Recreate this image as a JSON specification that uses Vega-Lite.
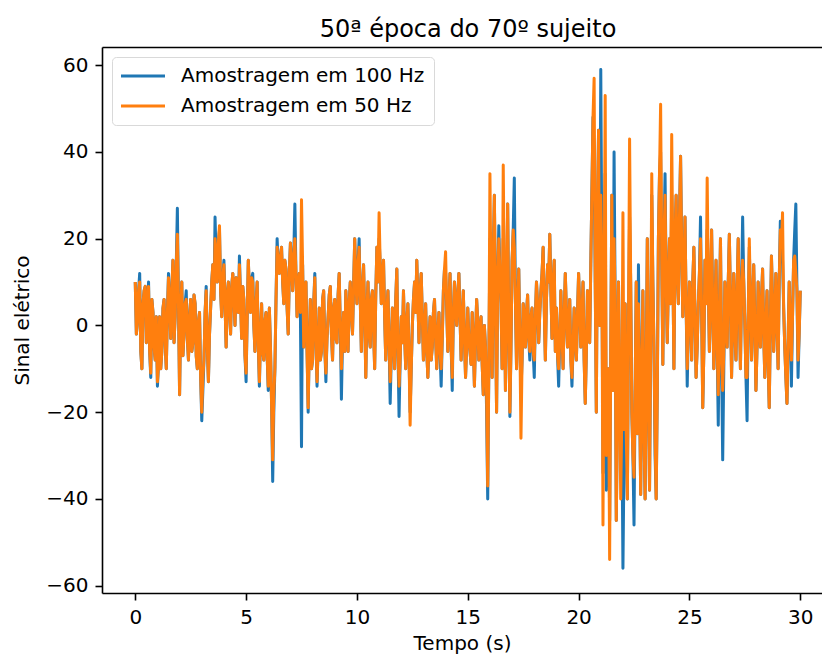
{
  "$schema": "https://vega.github.io/schema/vega-lite/v6.json",
  "autosize": "none",
  "width": 720,
  "height": 546,
  "padding": {"left": 102, "top": 47, "right": 0, "bottom": 64},
  "background": "white",
  "title": {"text": "50ª época do 70º sujeito", "font": "DejaVu Sans", "fontSize": 24, "fontWeight": "normal", "color": "black", "offset": 5, "dx": 6},
  "config": {
    "view": {"stroke": null},
    "axis": {"domain": true, "domainColor": "black", "domainWidth": 1.6, "grid": false, "tickColor": "black", "tickWidth": 1.6, "tickSize": 7, "labelFont": "DejaVu Sans", "labelFontSize": 20, "labelColor": "black", "titleFont": "DejaVu Sans", "titleFontSize": 20, "titleFontWeight": "normal", "titleColor": "black", "labelPadding": 7}
  },
  "data": {"values": [
{"t":0.0,"a":10,"b":10},{"t":0.1,"a":1,"b":1},{"t":0.2,"a":12,"b":10},{"t":0.3,"a":-10,"b":-10},{"t":0.4,"a":8,"b":8},{"t":0.5,"a":-4,"b":-4},{"t":0.6,"a":10,"b":9},{"t":0.7,"a":-12,"b":-11},{"t":0.8,"a":3,"b":3},{"t":0.9,"a":-8,"b":-8},
{"t":1.0,"a":-14,"b":-13},{"t":1.1,"a":2,"b":2},{"t":1.2,"a":-6,"b":-6},{"t":1.3,"a":6,"b":6},{"t":1.4,"a":-10,"b":-10},{"t":1.5,"a":12,"b":11},{"t":1.6,"a":-3,"b":-3},{"t":1.7,"a":15,"b":15},{"t":1.8,"a":2,"b":2},{"t":1.9,"a":27,"b":21},
{"t":2.0,"a":-16,"b":-16},{"t":2.1,"a":10,"b":10},{"t":2.2,"a":-2,"b":-2},{"t":2.3,"a":8,"b":6},{"t":2.4,"a":-8,"b":-8},{"t":2.5,"a":6,"b":6},{"t":2.6,"a":-4,"b":-4},{"t":2.7,"a":5,"b":5},{"t":2.8,"a":-10,"b":-10},{"t":2.9,"a":3,"b":3},
{"t":3.0,"a":-22,"b":-20},{"t":3.1,"a":-8,"b":-8},{"t":3.2,"a":9,"b":8},{"t":3.3,"a":-13,"b":-13},{"t":3.4,"a":4,"b":4},{"t":3.5,"a":14,"b":14},{"t":3.6,"a":25,"b":20},{"t":3.7,"a":10,"b":10},{"t":3.8,"a":22,"b":23},{"t":3.9,"a":2,"b":2},
{"t":4.0,"a":15,"b":14},{"t":4.1,"a":-5,"b":-5},{"t":4.2,"a":10,"b":10},{"t":4.3,"a":-2,"b":-2},{"t":4.4,"a":12,"b":12},{"t":4.5,"a":0,"b":0},{"t":4.6,"a":8,"b":8},{"t":4.7,"a":16,"b":14},{"t":4.8,"a":-3,"b":-3},{"t":4.9,"a":6,"b":6},
{"t":5.0,"a":-13,"b":-11},{"t":5.1,"a":15,"b":15},{"t":5.2,"a":3,"b":3},{"t":5.3,"a":12,"b":10},{"t":5.4,"a":-6,"b":-6},{"t":5.5,"a":10,"b":10},{"t":5.6,"a":-14,"b":-13},{"t":5.7,"a":5,"b":5},{"t":5.8,"a":-8,"b":-8},{"t":5.9,"a":3,"b":3},
{"t":6.0,"a":-15,"b":-14},{"t":6.1,"a":-5,"b":-5},{"t":6.2,"a":-36,"b":-31},{"t":6.3,"a":-10,"b":-10},{"t":6.4,"a":20,"b":18},{"t":6.5,"a":12,"b":12},{"t":6.6,"a":18,"b":18},{"t":6.7,"a":5,"b":5},{"t":6.8,"a":13,"b":13},{"t":6.9,"a":-2,"b":-2},
{"t":7.0,"a":19,"b":19},{"t":7.1,"a":8,"b":8},{"t":7.2,"a":28,"b":20},{"t":7.3,"a":2,"b":2},{"t":7.4,"a":12,"b":12},{"t":7.5,"a":-28,"b":29},{"t":7.6,"a":-5,"b":-5},{"t":7.7,"a":10,"b":10},{"t":7.8,"a":-20,"b":-19},{"t":7.9,"a":6,"b":6},
{"t":8.0,"a":-8,"b":-8},{"t":8.1,"a":12,"b":11},{"t":8.2,"a":-14,"b":-13},{"t":8.3,"a":4,"b":4},{"t":8.4,"a":-6,"b":-6},{"t":8.5,"a":8,"b":8},{"t":8.6,"a":-13,"b":-11},{"t":8.7,"a":2,"b":2},{"t":8.8,"a":9,"b":9},{"t":8.9,"a":-8,"b":-8},
{"t":9.0,"a":6,"b":6},{"t":9.1,"a":-4,"b":-4},{"t":9.2,"a":12,"b":12},{"t":9.3,"a":-17,"b":-10},{"t":9.4,"a":3,"b":3},{"t":9.5,"a":8,"b":8},{"t":9.6,"a":-6,"b":-6},{"t":9.7,"a":10,"b":10},{"t":9.8,"a":-2,"b":-2},{"t":9.9,"a":20,"b":20},
{"t":10.0,"a":5,"b":5},{"t":10.1,"a":20,"b":18},{"t":10.2,"a":-6,"b":-6},{"t":10.3,"a":14,"b":14},{"t":10.4,"a":-12,"b":-12},{"t":10.5,"a":10,"b":10},{"t":10.6,"a":-5,"b":-5},{"t":10.7,"a":8,"b":8},{"t":10.8,"a":-10,"b":-10},{"t":10.9,"a":18,"b":18},
{"t":11.0,"a":20,"b":26},{"t":11.1,"a":5,"b":5},{"t":11.2,"a":15,"b":15},{"t":11.3,"a":-8,"b":-8},{"t":11.4,"a":8,"b":8},{"t":11.5,"a":-18,"b":-13},{"t":11.6,"a":4,"b":4},{"t":11.7,"a":-10,"b":-10},{"t":11.8,"a":13,"b":13},{"t":11.9,"a":-21,"b":-14},
{"t":12.0,"a":2,"b":2},{"t":12.1,"a":8,"b":8},{"t":12.2,"a":-10,"b":-10},{"t":12.3,"a":5,"b":5},{"t":12.4,"a":-20,"b":-23},{"t":12.5,"a":0,"b":0},{"t":12.6,"a":10,"b":10},{"t":12.7,"a":15,"b":15},{"t":12.8,"a":-4,"b":-4},{"t":12.9,"a":12,"b":12},
{"t":13.0,"a":-8,"b":-8},{"t":13.1,"a":5,"b":5},{"t":13.2,"a":-12,"b":-12},{"t":13.3,"a":2,"b":2},{"t":13.4,"a":-5,"b":-5},{"t":13.5,"a":6,"b":6},{"t":13.6,"a":-10,"b":-10},{"t":13.7,"a":3,"b":3},{"t":13.8,"a":-14,"b":-10},{"t":13.9,"a":8,"b":8},
{"t":14.0,"a":12,"b":17},{"t":14.1,"a":-6,"b":-6},{"t":14.2,"a":12,"b":12},{"t":14.3,"a":-15,"b":-12},{"t":14.4,"a":10,"b":10},{"t":14.5,"a":0,"b":0},{"t":14.6,"a":12,"b":12},{"t":14.7,"a":-8,"b":-8},{"t":14.8,"a":8,"b":8},{"t":14.9,"a":-12,"b":-12},
{"t":15.0,"a":4,"b":4},{"t":15.1,"a":-6,"b":-6},{"t":15.2,"a":3,"b":3},{"t":15.3,"a":-14,"b":-14},{"t":15.4,"a":6,"b":6},{"t":15.5,"a":-8,"b":-8},{"t":15.6,"a":2,"b":2},{"t":15.7,"a":-16,"b":-16},{"t":15.8,"a":-5,"b":-5},{"t":15.9,"a":-40,"b":-37},
{"t":16.0,"a":20,"b":35},{"t":16.1,"a":-12,"b":-12},{"t":16.2,"a":30,"b":30},{"t":16.3,"a":-20,"b":-20},{"t":16.4,"a":23,"b":20},{"t":16.5,"a":5,"b":5},{"t":16.6,"a":20,"b":37},{"t":16.7,"a":-15,"b":-15},{"t":16.8,"a":28,"b":28},{"t":16.9,"a":-21,"b":-20},
{"t":17.0,"a":15,"b":15},{"t":17.1,"a":34,"b":18},{"t":17.2,"a":-10,"b":-10},{"t":17.3,"a":13,"b":13},{"t":17.4,"a":-15,"b":-26},{"t":17.5,"a":5,"b":5},{"t":17.6,"a":-5,"b":-5},{"t":17.7,"a":7,"b":7},{"t":17.8,"a":-8,"b":-6},{"t":17.9,"a":4,"b":4},
{"t":18.0,"a":-12,"b":-8},{"t":18.1,"a":10,"b":10},{"t":18.2,"a":-4,"b":-4},{"t":18.3,"a":8,"b":8},{"t":18.4,"a":18,"b":18},{"t":18.5,"a":-8,"b":-8},{"t":18.6,"a":14,"b":14},{"t":18.7,"a":21,"b":21},{"t":18.8,"a":-3,"b":-3},{"t":18.9,"a":15,"b":15},
{"t":19.0,"a":4,"b":4},{"t":19.1,"a":-14,"b":-10},{"t":19.2,"a":8,"b":8},{"t":19.3,"a":-10,"b":-10},{"t":19.4,"a":12,"b":12},{"t":19.5,"a":-5,"b":-5},{"t":19.6,"a":6,"b":6},{"t":19.7,"a":-14,"b":-12},{"t":19.8,"a":4,"b":4},{"t":19.9,"a":-8,"b":-8},
{"t":20.0,"a":12,"b":12},{"t":20.1,"a":-5,"b":-5},{"t":20.2,"a":10,"b":10},{"t":20.3,"a":-18,"b":-18},{"t":20.4,"a":8,"b":8},{"t":20.5,"a":-4,"b":-4},{"t":20.6,"a":31,"b":31},{"t":20.7,"a":40,"b":57},{"t":20.8,"a":-20,"b":-20},{"t":20.9,"a":45,"b":45},
{"t":21.0,"a":59,"b":30},{"t":21.1,"a":-34,"b":-46},{"t":21.2,"a":35,"b":53},{"t":21.3,"a":-20,"b":-20},{"t":21.4,"a":-45,"b":-54},{"t":21.5,"a":30,"b":30},{"t":21.6,"a":40,"b":20},{"t":21.7,"a":-45,"b":-45},{"t":21.8,"a":10,"b":10},{"t":21.9,"a":-30,"b":-40},
{"t":22.0,"a":-56,"b":26},{"t":22.1,"a":5,"b":5},{"t":22.2,"a":-40,"b":-40},{"t":22.3,"a":25,"b":43},{"t":22.4,"a":-20,"b":-20},{"t":22.5,"a":-46,"b":-35},{"t":22.6,"a":10,"b":10},{"t":22.7,"a":14,"b":5},{"t":22.8,"a":-39,"b":-39},{"t":22.9,"a":8,"b":8},
{"t":23.0,"a":-40,"b":-40},{"t":23.1,"a":20,"b":20},{"t":23.2,"a":-38,"b":-38},{"t":23.3,"a":30,"b":35},{"t":23.4,"a":-5,"b":-5},{"t":23.5,"a":-40,"b":-40},{"t":23.6,"a":20,"b":20},{"t":23.7,"a":40,"b":51},{"t":23.8,"a":-9,"b":-9},{"t":23.9,"a":35,"b":30},
{"t":24.0,"a":-4,"b":-4},{"t":24.1,"a":20,"b":20},{"t":24.2,"a":30,"b":44},{"t":24.3,"a":-10,"b":-10},{"t":24.4,"a":30,"b":30},{"t":24.5,"a":5,"b":5},{"t":24.6,"a":39,"b":39},{"t":24.7,"a":2,"b":2},{"t":24.8,"a":25,"b":25},{"t":24.9,"a":-14,"b":-10},
{"t":25.0,"a":10,"b":10},{"t":25.1,"a":-8,"b":-8},{"t":25.2,"a":18,"b":18},{"t":25.3,"a":-12,"b":-12},{"t":25.4,"a":5,"b":5},{"t":25.5,"a":25,"b":20},{"t":25.6,"a":-19,"b":-19},{"t":25.7,"a":15,"b":15},{"t":25.8,"a":22,"b":34},{"t":25.9,"a":-6,"b":-6},
{"t":26.0,"a":22,"b":22},{"t":26.1,"a":-10,"b":-10},{"t":26.2,"a":15,"b":15},{"t":26.3,"a":-23,"b":-16},{"t":26.4,"a":20,"b":20},{"t":26.5,"a":-31,"b":-15},{"t":26.6,"a":10,"b":10},{"t":26.7,"a":-5,"b":-5},{"t":26.8,"a":21,"b":21},{"t":26.9,"a":-12,"b":-12},
{"t":27.0,"a":12,"b":12},{"t":27.1,"a":-8,"b":-8},{"t":27.2,"a":20,"b":20},{"t":27.3,"a":-10,"b":-10},{"t":27.4,"a":25,"b":15},{"t":27.5,"a":0,"b":0},{"t":27.6,"a":-22,"b":-12},{"t":27.7,"a":18,"b":20},{"t":27.8,"a":-8,"b":-8},{"t":27.9,"a":14,"b":14},
{"t":28.0,"a":-15,"b":-15},{"t":28.1,"a":10,"b":10},{"t":28.2,"a":-5,"b":-5},{"t":28.3,"a":13,"b":13},{"t":28.4,"a":-12,"b":-12},{"t":28.5,"a":8,"b":8},{"t":28.6,"a":-19,"b":-19},{"t":28.7,"a":16,"b":16},{"t":28.8,"a":-6,"b":-6},{"t":28.9,"a":12,"b":12},
{"t":29.0,"a":-10,"b":-10},{"t":29.1,"a":24,"b":22},{"t":29.2,"a":15,"b":26},{"t":29.3,"a":-5,"b":-5},{"t":29.4,"a":-18,"b":-18},{"t":29.5,"a":10,"b":10},{"t":29.6,"a":-14,"b":-8},{"t":29.7,"a":15,"b":15},{"t":29.8,"a":28,"b":12},{"t":29.9,"a":-12,"b":-8},
{"t":30.0,"a":8,"b":8},
{"t":0.05,"a":-2,"b":-2},{"t":0.15,"a":8,"b":8},{"t":0.25,"a":-6,"b":-6},{"t":0.35,"a":5,"b":5},{"t":0.45,"a":9,"b":9},{"t":0.55,"a":4,"b":4},{"t":0.65,"a":-6,"b":-6},{"t":0.75,"a":6,"b":6},{"t":0.85,"a":-5,"b":-5},{"t":0.95,"a":2,"b":2},
{"t":1.05,"a":-9,"b":-9},{"t":1.15,"a":-10,"b":-10},{"t":1.25,"a":4,"b":4},{"t":1.35,"a":-4,"b":-4},{"t":1.45,"a":3,"b":3},{"t":1.55,"a":5,"b":5},{"t":1.65,"a":8,"b":8},{"t":1.75,"a":-4,"b":-4},{"t":1.85,"a":14,"b":14},{"t":1.95,"a":5,"b":5},
{"t":2.05,"a":3,"b":3},{"t":2.15,"a":-7,"b":-7},{"t":2.25,"a":5,"b":5},{"t":2.35,"a":-3,"b":-3},{"t":2.45,"a":2,"b":2},{"t":2.55,"a":-6,"b":-6},{"t":2.65,"a":7,"b":7},{"t":2.75,"a":-7,"b":-7},{"t":2.85,"a":1,"b":1},{"t":2.95,"a":-12,"b":-12},
{"t":3.05,"a":-15,"b":-12},{"t":3.15,"a":3,"b":3},{"t":3.25,"a":-5,"b":-5},{"t":3.35,"a":-2,"b":-2},{"t":3.45,"a":10,"b":10},{"t":3.55,"a":6,"b":6},{"t":3.65,"a":15,"b":15},{"t":3.75,"a":19,"b":19},{"t":3.85,"a":8,"b":8},{"t":3.95,"a":11,"b":11},
{"t":4.05,"a":5,"b":5},{"t":4.15,"a":7,"b":7},{"t":4.25,"a":4,"b":4},{"t":4.35,"a":9,"b":9},{"t":4.45,"a":6,"b":6},{"t":4.55,"a":11,"b":11},{"t":4.65,"a":3,"b":3},{"t":4.75,"a":6,"b":6},{"t":4.85,"a":9,"b":9},{"t":4.95,"a":-7,"b":-7},
{"t":5.05,"a":2,"b":2},{"t":5.15,"a":8,"b":8},{"t":5.25,"a":11,"b":11},{"t":5.35,"a":0,"b":0},{"t":5.45,"a":5,"b":5},{"t":5.55,"a":-4,"b":-4},{"t":5.65,"a":-2,"b":-2},{"t":5.75,"a":-6,"b":-6},{"t":5.85,"a":1,"b":1},{"t":5.95,"a":-7,"b":-7},
{"t":6.05,"a":4,"b":4},{"t":6.15,"a":-18,"b":-18},{"t":6.25,"a":-20,"b":-16},{"t":6.35,"a":6,"b":6},{"t":6.45,"a":14,"b":14},{"t":6.55,"a":16,"b":16},{"t":6.65,"a":10,"b":10},{"t":6.75,"a":15,"b":15},{"t":6.85,"a":4,"b":4},{"t":6.95,"a":12,"b":12},
{"t":7.05,"a":14,"b":14},{"t":7.15,"a":16,"b":16},{"t":7.25,"a":12,"b":12},{"t":7.35,"a":9,"b":9},{"t":7.45,"a":3,"b":3},{"t":7.55,"a":14,"b":14},{"t":7.65,"a":5,"b":5},{"t":7.75,"a":-6,"b":-6},{"t":7.85,"a":-4,"b":-4},{"t":7.95,"a":-10,"b":-10},
{"t":8.05,"a":5,"b":5},{"t":8.15,"a":-3,"b":-3},{"t":8.25,"a":-5,"b":-5},{"t":8.35,"a":-8,"b":-8},{"t":8.45,"a":6,"b":6},{"t":8.55,"a":-5,"b":-5},{"t":8.65,"a":-3,"b":-3},{"t":8.75,"a":7,"b":7},{"t":8.85,"a":-2,"b":-2},{"t":8.95,"a":4,"b":4},
{"t":9.05,"a":-3,"b":-3},{"t":9.15,"a":7,"b":7},{"t":9.25,"a":0,"b":0},{"t":9.35,"a":-3,"b":-3},{"t":9.45,"a":-6,"b":-6},{"t":9.55,"a":2,"b":2},{"t":9.65,"a":5,"b":5},{"t":9.75,"a":3,"b":3},{"t":9.85,"a":9,"b":9},{"t":9.95,"a":12,"b":10},
{"t":10.05,"a":14,"b":14},{"t":10.15,"a":6,"b":6},{"t":10.25,"a":8,"b":8},{"t":10.35,"a":2,"b":2},{"t":10.45,"a":3,"b":3},{"t":10.55,"a":-2,"b":-2},{"t":10.65,"a":6,"b":6},{"t":10.75,"a":-1,"b":-1},{"t":10.85,"a":7,"b":7},{"t":10.95,"a":10,"b":10},
{"t":11.05,"a":14,"b":14},{"t":11.15,"a":11,"b":11},{"t":11.25,"a":2,"b":2},{"t":11.35,"a":3,"b":3},{"t":11.45,"a":-4,"b":-4},{"t":11.55,"a":-7,"b":-7},{"t":11.65,"a":0,"b":0},{"t":11.75,"a":6,"b":6},{"t":11.85,"a":-5,"b":-5},{"t":11.95,"a":-8,"b":-8},
{"t":12.05,"a":-4,"b":-4},{"t":12.15,"a":-2,"b":-2},{"t":12.25,"a":1,"b":1},{"t":12.35,"a":-7,"b":-7},{"t":12.45,"a":-10,"b":-10},{"t":12.55,"a":6,"b":6},{"t":12.65,"a":3,"b":3},{"t":12.75,"a":6,"b":6},{"t":12.85,"a":8,"b":8},{"t":12.95,"a":2,"b":2},
{"t":13.05,"a":-2,"b":-2},{"t":13.15,"a":-6,"b":-6},{"t":13.25,"a":-4,"b":-4},{"t":13.35,"a":-8,"b":-8},{"t":13.45,"a":3,"b":3},{"t":13.55,"a":-3,"b":-3},{"t":13.65,"a":-2,"b":-2},{"t":13.75,"a":-6,"b":-6},{"t":13.85,"a":-3,"b":-3},{"t":13.95,"a":13,"b":13},
{"t":14.05,"a":4,"b":4},{"t":14.15,"a":5,"b":5},{"t":14.25,"a":-5,"b":-5},{"t":14.35,"a":3,"b":3},{"t":14.45,"a":4,"b":4},{"t":14.55,"a":7,"b":7},{"t":14.65,"a":2,"b":2},{"t":14.75,"a":1,"b":1},{"t":14.85,"a":-3,"b":-3},{"t":14.95,"a":-5,"b":-5},
{"t":15.05,"a":-3,"b":-3},{"t":15.15,"a":-9,"b":-9},{"t":15.25,"a":-4,"b":-4},{"t":15.35,"a":-3,"b":-3},{"t":15.45,"a":1,"b":1},{"t":15.55,"a":-2,"b":-2},{"t":15.65,"a":-9,"b":-9},{"t":15.75,"a":0,"b":0},{"t":15.85,"a":-20,"b":-16},{"t":15.95,"a":-10,"b":-10},
{"t":16.05,"a":8,"b":8},{"t":16.15,"a":15,"b":15},{"t":16.25,"a":4,"b":4},{"t":16.35,"a":10,"b":10},{"t":16.45,"a":12,"b":12},{"t":16.55,"a":-10,"b":-10},{"t":16.65,"a":10,"b":10},{"t":16.75,"a":8,"b":8},{"t":16.85,"a":0,"b":0},{"t":16.95,"a":-5,"b":-5},
{"t":17.05,"a":22,"b":22},{"t":17.15,"a":6,"b":6},{"t":17.25,"a":4,"b":4},{"t":17.35,"a":-3,"b":-3},{"t":17.45,"a":-8,"b":-8},{"t":17.55,"a":2,"b":2},{"t":17.65,"a":3,"b":3},{"t":17.75,"a":-3,"b":-3},{"t":17.85,"a":2,"b":2},{"t":17.95,"a":-6,"b":-6},
{"t":18.05,"a":2,"b":2},{"t":18.15,"a":5,"b":5},{"t":18.25,"a":3,"b":3},{"t":18.35,"a":12,"b":12},{"t":18.45,"a":4,"b":4},{"t":18.55,"a":6,"b":6},{"t":18.65,"a":10,"b":10},{"t":18.75,"a":8,"b":8},{"t":18.85,"a":10,"b":10},{"t":18.95,"a":-6,"b":-6},
{"t":19.05,"a":-7,"b":-7},{"t":19.15,"a":-3,"b":-3},{"t":19.25,"a":-2,"b":-2},{"t":19.35,"a":2,"b":2},{"t":19.45,"a":3,"b":3},{"t":19.55,"a":0,"b":0},{"t":19.65,"a":-8,"b":-8},{"t":19.75,"a":-5,"b":-5},{"t":19.85,"a":-3,"b":-3},{"t":19.95,"a":3,"b":3},
{"t":20.05,"a":4,"b":4},{"t":20.15,"a":2,"b":2},{"t":20.25,"a":-8,"b":-8},{"t":20.35,"a":-6,"b":-6},{"t":20.45,"a":2,"b":2},{"t":20.55,"a":14,"b":14},{"t":20.65,"a":48,"b":48},{"t":20.75,"a":10,"b":10},{"t":20.85,"a":25,"b":25},{"t":20.95,"a":0,"b":0},
{"t":21.05,"a":15,"b":15},{"t":21.15,"a":5,"b":5},{"t":21.25,"a":-38,"b":-30},{"t":21.35,"a":-10,"b":-10},{"t":21.45,"a":-5,"b":-5},{"t":21.55,"a":-15,"b":-15},{"t":21.65,"a":5,"b":5},{"t":21.75,"a":-20,"b":-20},{"t":21.85,"a":-15,"b":-15},{"t":21.95,"a":-20,"b":-20},
{"t":22.05,"a":-30,"b":-24},{"t":22.15,"a":-25,"b":-25},{"t":22.25,"a":0,"b":0},{"t":22.35,"a":10,"b":10},{"t":22.45,"a":-30,"b":-30},{"t":22.55,"a":-15,"b":-15},{"t":22.65,"a":-25,"b":-25},{"t":22.75,"a":-15,"b":-15},{"t":22.85,"a":-10,"b":-10},{"t":22.95,"a":-25,"b":-25},
{"t":23.05,"a":-10,"b":-10},{"t":23.15,"a":-15,"b":-15},{"t":23.25,"a":-5,"b":-5},{"t":23.35,"a":10,"b":10},{"t":23.45,"a":-30,"b":-26},{"t":23.55,"a":-15,"b":-15},{"t":23.65,"a":35,"b":35},{"t":23.75,"a":15,"b":15},{"t":23.85,"a":20,"b":20},{"t":23.95,"a":10,"b":10},
{"t":24.05,"a":10,"b":10},{"t":24.15,"a":5,"b":5},{"t":24.25,"a":15,"b":15},{"t":24.35,"a":20,"b":20},{"t":24.45,"a":12,"b":12},{"t":24.55,"a":25,"b":25},{"t":24.65,"a":18,"b":18},{"t":24.75,"a":12,"b":12},{"t":24.85,"a":5,"b":5},{"t":24.95,"a":0,"b":0},
{"t":25.05,"a":3,"b":3},{"t":25.15,"a":10,"b":10},{"t":25.25,"a":2,"b":2},{"t":25.35,"a":-5,"b":-5},{"t":25.45,"a":12,"b":12},{"t":25.55,"a":3,"b":3},{"t":25.65,"a":-6,"b":-6},{"t":25.75,"a":5,"b":5},{"t":25.85,"a":10,"b":10},{"t":25.95,"a":8,"b":8},
{"t":26.05,"a":4,"b":4},{"t":26.15,"a":3,"b":3},{"t":26.25,"a":-5,"b":-5},{"t":26.35,"a":2,"b":2},{"t":26.45,"a":-8,"b":-8},{"t":26.55,"a":-10,"b":-6},{"t":26.65,"a":2,"b":2},{"t":26.75,"a":10,"b":10},{"t":26.85,"a":6,"b":6},{"t":26.95,"a":3,"b":3},
{"t":27.05,"a":-2,"b":-2},{"t":27.15,"a":8,"b":8},{"t":27.25,"a":4,"b":4},{"t":27.35,"a":8,"b":8},{"t":27.45,"a":10,"b":10},{"t":27.55,"a":-12,"b":-12},{"t":27.65,"a":2,"b":2},{"t":27.75,"a":6,"b":6},{"t":27.85,"a":4,"b":4},{"t":27.95,"a":0,"b":0},
{"t":28.05,"a":-5,"b":-5},{"t":28.15,"a":2,"b":2},{"t":28.25,"a":6,"b":6},{"t":28.35,"a":-2,"b":-2},{"t":28.45,"a":0,"b":0},{"t":28.55,"a":-8,"b":-8},{"t":28.65,"a":0,"b":0},{"t":28.75,"a":5,"b":5},{"t":28.85,"a":2,"b":2},{"t":28.95,"a":1,"b":1},
{"t":29.05,"a":10,"b":10},{"t":29.15,"a":18,"b":18},{"t":29.25,"a":4,"b":4},{"t":29.35,"a":-12,"b":-12},{"t":29.45,"a":-4,"b":-4},{"t":29.55,"a":0,"b":0},{"t":29.65,"a":2,"b":2},{"t":29.75,"a":22,"b":16},{"t":29.85,"a":8,"b":8},{"t":29.95,"a":-2,"b":-2}
  ]},
  "encoding": {
    "color": {"type": "nominal", "scale": {"domain": ["Amostragem em 100 Hz", "Amostragem em 50 Hz"], "range": ["#1f77b4", "#ff7f0e"]},
      "legend": {"title": null, "orient": "top-left", "offset": 10, "padding": 9, "strokeColor": "#d9d9d9", "fillColor": "rgba(255,255,255,0.8)", "cornerRadius": 4, "symbolType": "M-3,0H3", "symbolSize": 215, "symbolStrokeWidth": 3, "symbolOffset": 12, "labelFont": "DejaVu Sans", "labelFontSize": 20, "labelColor": "black", "labelOffset": 28, "labelLimit": 500, "rowPadding": 10}}
  },
  "layer": [
    {"mark": {"type": "line", "strokeWidth": 3, "strokeJoin": "round", "clip": true},
     "encoding": {
       "x": {"field": "t", "type": "quantitative", "title": "Tempo (s)", "scale": {"domain": [-1.5, 30.98], "nice": false, "zero": false}, "axis": {"values": [0, 5, 10, 15, 20, 25, 30], "titlePadding": 6}},
       "y": {"field": "a", "type": "quantitative", "title": "Sinal elétrico", "scale": {"domain": [-61.7, 64.2], "nice": false, "zero": false}, "axis": {"values": [-60, -40, -20, 0, 20, 40, 60], "titlePadding": 13}},
       "color": {"datum": "Amostragem em 100 Hz"}}},
    {"mark": {"type": "line", "strokeWidth": 3, "strokeJoin": "round", "clip": true},
     "encoding": {
       "x": {"field": "t", "type": "quantitative", "axis": {"orient": "top", "labels": false, "ticks": false, "title": null, "values": [0]}},
       "y": {"field": "b", "type": "quantitative"},
       "color": {"datum": "Amostragem em 50 Hz"}}}
  ],
  "resolve": {"axis": {"x": "independent"}}
}
